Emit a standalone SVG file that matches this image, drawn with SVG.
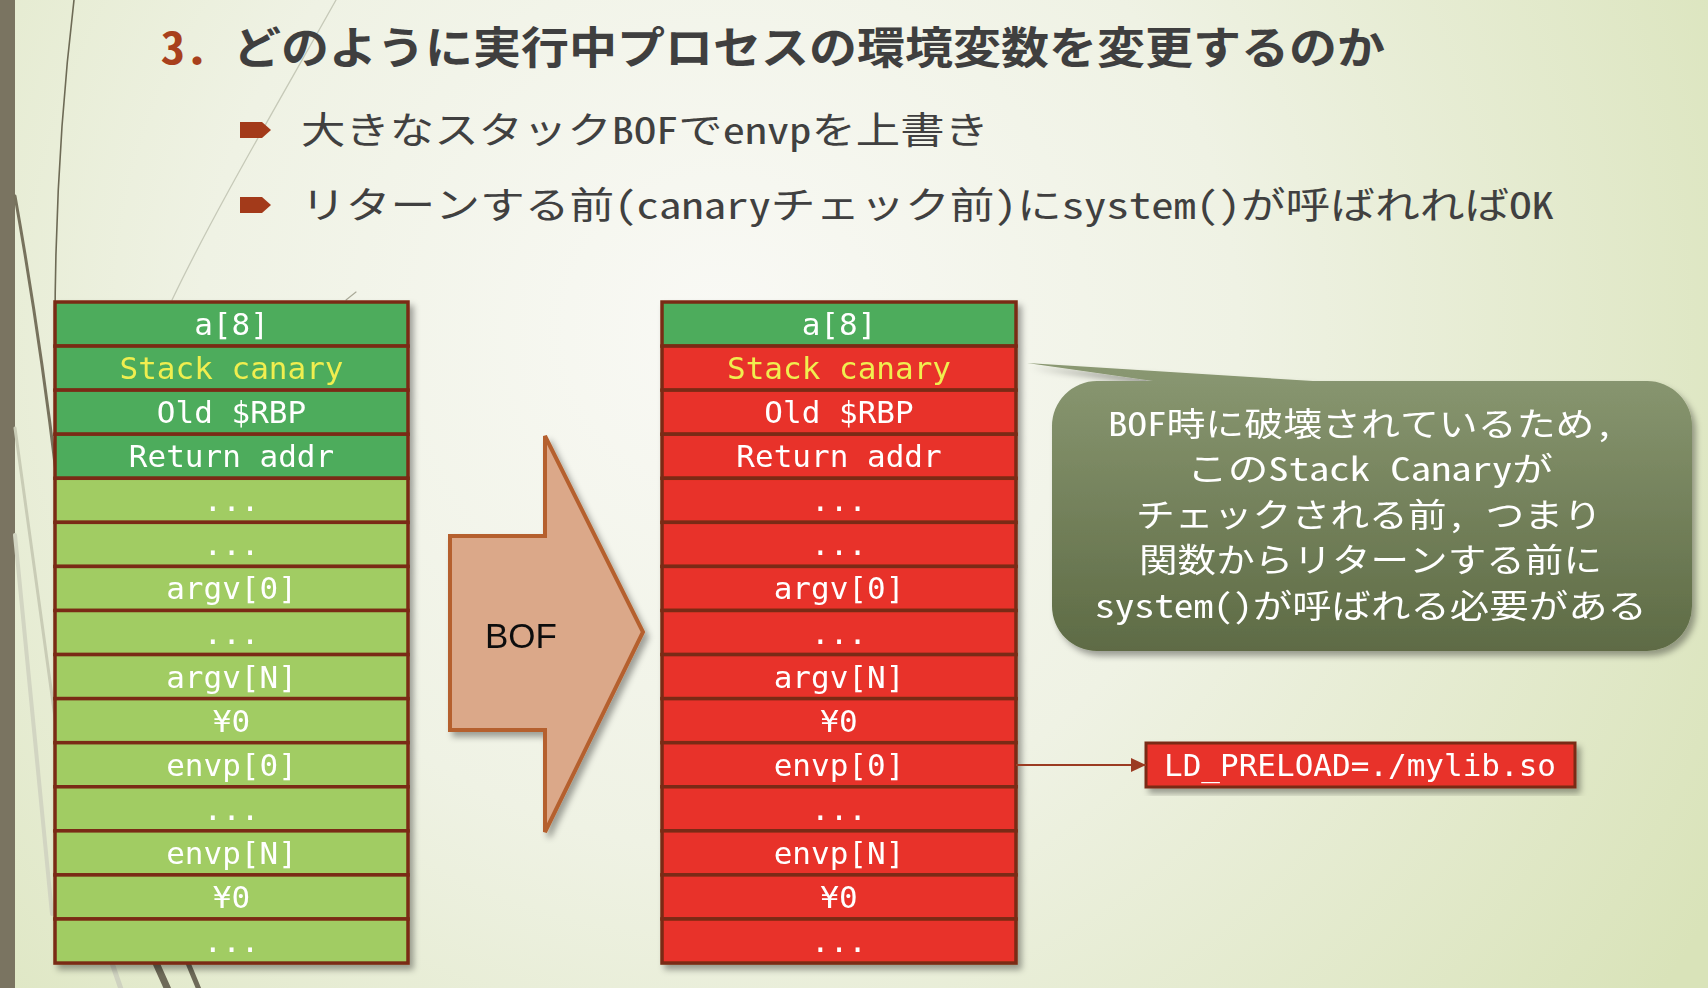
<svg xmlns="http://www.w3.org/2000/svg" width="1708" height="988" viewBox="0 0 1708 988">
<defs>
<radialGradient id="bg" cx="720" cy="330" r="1150" gradientUnits="userSpaceOnUse">
<stop offset="0" stop-color="#f9f9f5"/>
<stop offset="0.45" stop-color="#eff2e4"/>
<stop offset="1" stop-color="#d9e3b9"/>
</radialGradient>
<linearGradient id="callg" x1="0" y1="0" x2="0" y2="1">
<stop offset="0" stop-color="#8a9872"/>
<stop offset="1" stop-color="#5e6b45"/>
</linearGradient>
<filter id="sh" x="-10%" y="-10%" width="130%" height="130%">
<feDropShadow dx="4" dy="5" stdDeviation="3" flood-color="#000" flood-opacity="0.35"/>
</filter>
<marker id="ah" markerUnits="userSpaceOnUse" markerWidth="16" markerHeight="14" refX="15" refY="7" orient="auto">
<path d="M0,0 L15,7 L0,14 z" fill="#9b3b22"/>
</marker>
<style>
.cell{stroke:#7a2b13;stroke-width:3.5}
.dg{fill:#4dac5b}
.lg{fill:#a1cc64}
.rd{fill:#e8322a}
.lbl{font-family:'DejaVu Sans Mono','Liberation Mono',monospace;font-size:31px;fill:#ffffff;text-anchor:middle}
.yel{fill:#f0ee50}
.jp{font-family:'Noto Sans Mono CJK JP','Noto Sans CJK JP',sans-serif}
.bul{font-size:37px;fill:#404040}
.call{font-size:33px;fill:#ffffff}
.deco{fill:none;stroke-linecap:round}
</style>
</defs>

<rect width="1708" height="988" fill="url(#bg)"/>

<g id="decor">
<rect x="0" y="0" width="15" height="988" fill="#7a7461"/>
<path class="deco" d="M74,0 C62,100 55,200 55,330" stroke="#6d6a55" stroke-width="1.6"/>
<path class="deco" d="M15,196 C30,280 45,380 57,480" stroke="#77725d" stroke-width="3"/>
<path class="deco" d="M15,428 C30,540 45,640 56,725" stroke="#c9ccb6" stroke-width="3"/>
<path class="deco" d="M15,535 C28,680 40,800 52,914" stroke="#d2d5c2" stroke-width="4"/>
<path class="deco" d="M336,0 C280,100 215,210 172,300" stroke="#c6c9b8" stroke-width="1.3"/>
<path class="deco" d="M346,300 L356,292" stroke="#a9a998" stroke-width="1.2"/>
<path class="deco" d="M156,963 L169,992" stroke="#6e6a58" stroke-width="7"/>
<path class="deco" d="M188,963 L200,992" stroke="#6e6a58" stroke-width="5"/>
<path class="deco" d="M112,963 L122,992" stroke="#cfd2c0" stroke-width="5"/>
</g>

<g id="title">
<text class="jp" x="161" y="64" font-size="44" font-weight="bold" fill="#3f3f3f" textLength="1224" lengthAdjust="spacingAndGlyphs"><tspan fill="#a8401c">3.</tspan> どのように実行中プロセスの環境変数を変更するのか</text>
</g>

<g id="bullet1">
<polygon points="240,122 262,122 271,130 262,138 240,138" fill="#a33a1a"/>
<text class="jp bul" x="301" y="144" textLength="688" lengthAdjust="spacingAndGlyphs">大きなスタックBOFでenvpを上書き</text>
</g>
<g id="bullet2">
<polygon points="240,197 262,197 271,205 262,213 240,213" fill="#a33a1a"/>
<text class="jp bul" x="301" y="219" textLength="1253" lengthAdjust="spacingAndGlyphs">リターンする前(canaryチェック前)にsystem()が呼ばれればOK</text>
</g>

<g id="stack-before" filter="url(#sh)">
<rect class="cell dg" x="55" y="302" width="353" height="44.07"/>
<rect class="cell dg" x="55" y="346.07" width="353" height="44.07"/>
<rect class="cell dg" x="55" y="390.14" width="353" height="44.07"/>
<rect class="cell dg" x="55" y="434.21" width="353" height="44.07"/>
<rect class="cell lg" x="55" y="478.28" width="353" height="44.07"/>
<rect class="cell lg" x="55" y="522.35" width="353" height="44.07"/>
<rect class="cell lg" x="55" y="566.42" width="353" height="44.07"/>
<rect class="cell lg" x="55" y="610.49" width="353" height="44.07"/>
<rect class="cell lg" x="55" y="654.56" width="353" height="44.07"/>
<rect class="cell lg" x="55" y="698.63" width="353" height="44.07"/>
<rect class="cell lg" x="55" y="742.7" width="353" height="44.07"/>
<rect class="cell lg" x="55" y="786.77" width="353" height="44.07"/>
<rect class="cell lg" x="55" y="830.84" width="353" height="44.07"/>
<rect class="cell lg" x="55" y="874.91" width="353" height="44.07"/>
<rect class="cell lg" x="55" y="918.98" width="353" height="44.07"/>
<text class="lbl" x="231.5" y="335">a[8]</text>
<text class="lbl yel" x="231.5" y="379.1">Stack canary</text>
<text class="lbl" x="231.5" y="423.1">Old $RBP</text>
<text class="lbl" x="231.5" y="467.2">Return addr</text>
<text class="lbl" x="231.5" y="511.3">...</text>
<text class="lbl" x="231.5" y="555.4">...</text>
<text class="lbl" x="231.5" y="599.4">argv[0]</text>
<text class="lbl" x="231.5" y="643.5">...</text>
<text class="lbl" x="231.5" y="687.6">argv[N]</text>
<text class="lbl" x="231.5" y="731.6">¥0</text>
<text class="lbl" x="231.5" y="775.7">envp[0]</text>
<text class="lbl" x="231.5" y="819.8">...</text>
<text class="lbl" x="231.5" y="863.8">envp[N]</text>
<text class="lbl" x="231.5" y="907.9">¥0</text>
<text class="lbl" x="231.5" y="952">...</text>
</g>

<g id="bof-arrow" filter="url(#sh)">
<polygon points="450,536 545,536 545,436 643,632 545,832 545,730 450,730" fill="#dba889" stroke="#b5602f" stroke-width="4" stroke-linejoin="miter"/>
<text x="521" y="648" font-family="'Liberation Sans',Arial,sans-serif" font-size="35" fill="#111111" text-anchor="middle">BOF</text>
</g>

<g id="stack-after" filter="url(#sh)">
<rect class="cell dg" x="662" y="302" width="354" height="44.07"/>
<rect class="cell rd" x="662" y="346.07" width="354" height="44.07"/>
<rect class="cell rd" x="662" y="390.14" width="354" height="44.07"/>
<rect class="cell rd" x="662" y="434.21" width="354" height="44.07"/>
<rect class="cell rd" x="662" y="478.28" width="354" height="44.07"/>
<rect class="cell rd" x="662" y="522.35" width="354" height="44.07"/>
<rect class="cell rd" x="662" y="566.42" width="354" height="44.07"/>
<rect class="cell rd" x="662" y="610.49" width="354" height="44.07"/>
<rect class="cell rd" x="662" y="654.56" width="354" height="44.07"/>
<rect class="cell rd" x="662" y="698.63" width="354" height="44.07"/>
<rect class="cell rd" x="662" y="742.7" width="354" height="44.07"/>
<rect class="cell rd" x="662" y="786.77" width="354" height="44.07"/>
<rect class="cell rd" x="662" y="830.84" width="354" height="44.07"/>
<rect class="cell rd" x="662" y="874.91" width="354" height="44.07"/>
<rect class="cell rd" x="662" y="918.98" width="354" height="44.07"/>
<text class="lbl" x="839" y="335">a[8]</text>
<text class="lbl yel" x="839" y="379.1">Stack canary</text>
<text class="lbl" x="839" y="423.1">Old $RBP</text>
<text class="lbl" x="839" y="467.2">Return addr</text>
<text class="lbl" x="839" y="511.3">...</text>
<text class="lbl" x="839" y="555.4">...</text>
<text class="lbl" x="839" y="599.4">argv[0]</text>
<text class="lbl" x="839" y="643.5">...</text>
<text class="lbl" x="839" y="687.6">argv[N]</text>
<text class="lbl" x="839" y="731.6">¥0</text>
<text class="lbl" x="839" y="775.7">envp[0]</text>
<text class="lbl" x="839" y="819.8">...</text>
<text class="lbl" x="839" y="863.8">envp[N]</text>
<text class="lbl" x="839" y="907.9">¥0</text>
<text class="lbl" x="839" y="952">...</text>
</g>

<g id="callout" filter="url(#sh)">
<path d="M1027,363 L1313,381 L1647,381 A45,45 0 0 1 1692,426 L1692,606 A45,45 0 0 1 1647,651 L1097,651 A45,45 0 0 1 1052,606 L1052,426 A45,45 0 0 1 1097,381 L1153,381 Z" fill="url(#callg)"/>
<text class="jp call" x="1108" y="436" textLength="506" lengthAdjust="spacingAndGlyphs">BOF時に破壊されているため,</text>
<text class="jp call" x="1187" y="481" textLength="366" lengthAdjust="spacingAndGlyphs">このStack Canaryが</text>
<text class="jp call" x="1136" y="527" textLength="466" lengthAdjust="spacingAndGlyphs">チェックされる前, つまり</text>
<text class="jp call" x="1139" y="572" textLength="463" lengthAdjust="spacingAndGlyphs">関数からリターンする前に</text>
<text class="jp call" x="1095" y="618" textLength="552" lengthAdjust="spacingAndGlyphs">system()が呼ばれる必要がある</text>
</g>

<g id="ld-preload" filter="url(#sh)">
<rect x="1146" y="743" width="429" height="44" fill="#e8322a" stroke="#7a2b13" stroke-width="3"/>
<text class="lbl" x="1360" y="776">LD_PRELOAD=./mylib.so</text>
</g>

<g id="connectors">
<line x1="1016" y1="765" x2="1146" y2="765" stroke="#9b3b22" stroke-width="2" marker-end="url(#ah)"/>
</g>
</svg>
